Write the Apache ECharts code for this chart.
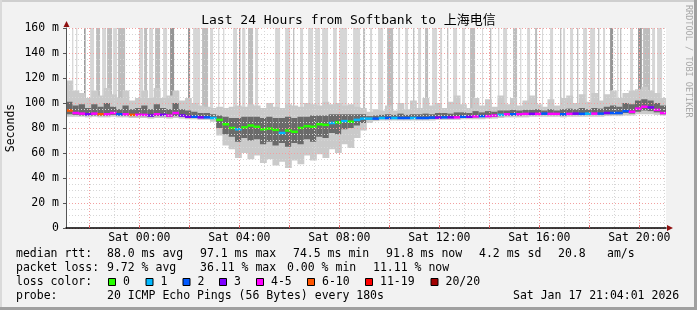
<!DOCTYPE html>
<html><head><meta charset="utf-8">
<script src="https://cdn.jsdelivr.net/npm/echarts@6/dist/echarts.min.js"></script>
<style>html,body{margin:0;padding:0;background:#f2f2f2;overflow:hidden}#c{width:697px;height:310px}</style>
</head><body><div id="c"></div>
<script>
// ---------------- data ----------------
const titleText = 'Last 24 Hours from Softbank to 上海电信';
const yAxisTitle = 'Seconds';
const sideText = 'RRDTOOL / TOBI OETIKER';
const xLabelHours = [0, 4, 8, 12, 16, 20];
const xMinorHours = [-2,-1,0,1,2,3,4,5,6,7,8,9,10,11,12,13,14,15,16,17,18,19,20,21];
const xMajorHours = [-2,0,2,4,6,8,10,12,14,16,18,20];
const xRange = [-2.9333, 21.0667];     // Fri 21:04 .. Sat 21:04 (hours from Sat 00:00)
const yRange = [0, 160];               // ms
const startHour = -2.8, stepHours = 0.25; // sample times (15 min bins)

const median = [94,92,91.5,91,91.5,91,91,92,91,91,90.5,
  90.5,90.5,90,91,90.5,90,92,90,89,89,88.5,88.5,88,
  86.5,83,80,79,80.5,82,81,79,79.5,78.5,76,78,77,80,81.5,81,83,82.5,84,84.5,85.5,85,86.5,87.5,
  87.5,87.5,88,88,88,88,88,88,88,88,88.3,88.3,88.5,88.5,88.5,89,89,89.3,89.5,89.5,90,90.5,91,91,
  91,91.3,91.3,91.3,91.5,91.3,91.3,91,91.3,91.5,91.3,91.5,91.5,91.5,92,92,92,93.5,93,95.5,97,96.5,94.5,92];
const lossIdx = [5,4,4,3,4,5,4,4,2,4,5,4,
  4,3,4,3,4,4,3,3,2,3,2,1,
  0,0,0,1,0,0,0,0,0,0,1,0,
  0,0,0,0,0,0,1,0,1,0,1,1,
  1,2,1,2,1,2,2,1,2,2,2,3,
  2,3,4,2,3,4,2,4,4,1,4,2,
  4,4,3,4,2,4,4,2,4,3,2,1,
  4,2,3,2,2,2,4,4,4,3,4,4];
const smokeLow = [89,89,89,88.5,89,88.5,88.5,89,88.5,88.5,88,88,
  88,87.5,88,88,87.5,88,87.5,87,87,86.5,86.5,85,
  74,66,63,56,60,55,58,52,55,50,53,48,
  54,51,58,54,59,56,63,60,67,64,72,78,
  84,85.5,86,86,86,86,86,86,86,86,86,86.5,
  86.5,86.5,86.5,87,87,87,87,87.5,87.5,88,88.5,88.5,
  88.5,88.5,89,89,89,89,89,88.5,89,89,89,89,
  89,89,89.5,89.5,89.5,90,90,91,91,91,90.5,90];
const smokeDarkLow = [91,90.5,90,90,90,90,90,90.5,90,90,89.5,89.5,
  89.5,89,89.5,89.5,89,89.5,89,88.5,88.5,88,88,87.5,
  80,75,73,69,72,70,71,67,69,66,68,65,
  68,67,71,69,73,72,76,75,79,80,82,84,
  86.5,87,87.5,87.5,87.5,87.5,87.5,87.5,87.5,87.5,87.5,88,
  88,88,88,88.5,88.5,88.5,89,89,89,89.5,90,90,
  90,90.5,90.5,90.5,90.5,90.5,90.5,90,90.5,90.5,90.5,90.5,
  91,91,91,91,91,92,91.5,93,94,93.5,92.5,91];
const smokeDarkHigh = [101,98,99,96,99,97,100,97,95,98,95,96,
  98,95,99,96,95,100,95,94,93,92,92,91,
  90,89,88,88,89,89,89,88,89,88,88,89,
  88,89,89,90,90,90,91,91,91,91,91,91,
  89.5,90,90.5,91,90.5,91.5,90.5,91,91,91.5,91,92,
  92,91.5,92.5,92.5,92,93.5,92.5,93.5,93,94,94,94.5,
  94,94.5,94.5,95,94,95,94,95,95.5,95,96,95,
  96,95.5,97,98,97,100,99,102,103,102,100,98];
const smokeHigh = [118,110,108,104,110,106,112,107,104,110,102,104,
  110,104,112,104,106,110,102,104,100,98,97,96,
  97,96,97,98,97,99,98,96,100,97,96,99,
  98,97,100,99,98,101,99,100,98,99,97,96,
  93,95,94,98,94,100,95,102,96,104,98,100,
  96,101,106,99,96,104,98,103,97,106,99,104,
  98,102,106,99,97,103,98,104,106,100,107,101,
  108,102,107,110,104,108,110,111,113,110,108,104];
// spikes of the slowest pings that run off the top: [from hour, to hour, density 1..3]
const spikes = [[-2.69,-2.64,1],[-2.53,-2.48,1],[-2.21,-2.15,3],[-1.97,-1.81,1],[-1.73,-1.57,2],
  [-1.49,-1.33,1],[-1.29,-1.09,2],[-1.05,-0.89,1],[-0.85,-0.57,2],[-0.01,0.15,1],[0.19,0.31,2],
  [0.39,0.55,1],[0.63,0.83,2],[0.95,1.11,1],[1.23,1.39,3],[1.95,2.03,3],[2.15,2.43,1],[2.51,2.75,2],
  [2.83,2.95,1],[3.15,3.2,1],[3.35,3.4,1],[3.75,3.91,1],[3.99,4.04,3],[4.11,4.24,1],[4.35,4.55,2],
  [4.63,4.75,1],[5.43,5.63,1],[5.83,6.03,1],[6.15,6.2,2],[6.43,6.55,1],[6.75,6.95,1],[7.03,7.23,1],
  [7.31,7.55,1],[7.75,7.9,1],[8.0,8.31,1],[8.55,8.83,1],[8.95,9.03,2],[9.23,9.31,1],[9.55,9.75,1],
  [9.91,10.15,2],[10.35,10.43,1],[10.63,10.75,1],[10.95,11.0,2],[11.15,11.27,1],[11.43,11.55,2],
  [11.71,11.91,1],[12.03,12.11,1],[12.31,12.36,2],[12.55,12.71,1],[12.91,13.03,1],[13.23,13.43,2],
  [13.71,13.75,1],[14.03,14.08,2],[14.35,14.4,1],[14.55,14.71,1],[14.95,15.11,2],[15.23,15.28,1],
  [15.51,15.63,1],[15.83,15.91,2],[16.11,16.15,1],[16.43,16.55,1],[16.83,16.88,2],[16.95,17.03,1],
  [17.23,17.35,1],[17.51,17.56,2],[17.75,17.91,1],[18.03,18.23,1],[18.35,18.4,2],[18.55,18.63,1],
  [18.83,18.95,3],[19.11,19.16,1],[19.23,19.28,2],[19.63,19.75,1],[19.95,20.1,3],[20.15,20.43,2],
  [20.51,20.63,1],[20.71,20.91,1]];
const lossLabels = ['0','1','2','3','4-5','6-10','11-19','20/20'];
const rttStats = ['median rtt:','88.0 ms avg','97.1 ms max','74.5 ms min','91.8 ms now','4.2 ms sd','20.8','am/s'];
const lossStats = ['packet loss:','9.72 % avg','36.11 % max','0.00 % min','11.11 % now'];
const probeLine = ['probe:','20 ICMP Echo Pings (56 Bytes) every 180s','Sat Jan 17 21:04:01 2026'];
const lossTitle = 'loss color:';

// ---------------- styles ----------------
const lossColors = ['#26ff00','#00b8ff','#0059ff','#7e00ff','#ff00ff','#ff5500','#ff0000','#a10000'];
const spikeColors = [null,'#d6d6d6','#bdbdbd','#959595'];
const SMOKE_LIGHT = '#cacaca', SMOKE_DARK = '#6a6a6a';
const MONO = '"DejaVu Sans Mono", "Noto Sans CJK SC", monospace';
const FS = 11.5;

const chart = echarts.init(document.getElementById('c'), null, {renderer: 'canvas', width: 697, height: 310});
const times = median.map((_, i) => startHour + i * stepHours);
const half = stepHours / 2;

function clip(params, r) {
  const cs = params.coordSys;
  return echarts.graphic.clipRectByRect(r, {x: cs.x, y: cs.y, width: cs.width, height: cs.height});
}
function rectBetween(params, api, t0, t1, v0, v1, pad) {
  const a = api.coord([t0, v1]);
  const b = api.coord([t1, v0]);
  return clip(params, {x: a[0], y: a[1], width: b[0] - a[0] + (pad || 0), height: b[1] - a[1]});
}

const spikeSeries = {
  type: 'custom', silent: true, animation: false, z: 1,
  data: spikes,
  renderItem(params, api) {
    const r = rectBetween(params, api, api.value(0), api.value(1), 92, 200, 0);
    if (!r) return;
    r.width = Math.max(r.width, 1);
    return {type: 'rect', shape: r, style: {fill: spikeColors[api.value(2)]}};
  }
};
const smokeSeries = {
  type: 'custom', silent: true, animation: false, z: 2,
  data: times.map((t, i) => [t, smokeLow[i], smokeDarkLow[i], smokeDarkHigh[i], smokeHigh[i]]),
  renderItem(params, api) {
    const t = api.value(0);
    const outer = rectBetween(params, api, t - half, t + half, api.value(1), api.value(4), 0.6);
    const inner = rectBetween(params, api, t - half, t + half, api.value(2), api.value(3), 0.6);
    const ch = [];
    if (outer) ch.push({type: 'rect', shape: outer, style: {fill: SMOKE_LIGHT}});
    if (inner) ch.push({type: 'rect', shape: inner, style: {fill: SMOKE_DARK}});
    return {type: 'group', children: ch};
  }
};
const medianSeries = {
  type: 'custom', silent: true, animation: false, z: 3,
  data: times.map((t, i) => [t, median[i], lossIdx[i]]),
  renderItem(params, api) {
    const t = api.value(0), v = api.value(1);
    const a = api.coord([t - half, v]), b = api.coord([t + half, v]);
    const r = clip(params, {x: a[0], y: a[1] - 1.25, width: b[0] - a[0] + 0.4, height: 2.5});
    if (!r) return;
    return {type: 'rect', shape: r, style: {fill: lossColors[api.value(2)]}};
  }
};

function txt(x, y, s, extra) {
  return {type: 'text', x: x, y: y, silent: true,
    style: Object.assign({text: s, fill: '#000', font: FS + 'px ' + MONO, verticalAlign: 'middle', align: 'left'}, extra || {})};
}
const g = [];
// frame
g.push({type: 'rect', shape: {x: 0, y: 0, width: 697, height: 2}, style: {fill: '#cfcfcf'}, silent: true});
g.push({type: 'rect', shape: {x: 0, y: 0, width: 2, height: 310}, style: {fill: '#dadada'}, silent: true});
g.push({type: 'rect', shape: {x: 694, y: 0, width: 3, height: 310}, style: {fill: '#a0a0a0'}, silent: true});
g.push({type: 'rect', shape: {x: 0, y: 307, width: 697, height: 3}, style: {fill: '#a0a0a0'}, silent: true});
// title & side texts
g.push(txt(348.5, 21, titleText, {align: 'center', font: '13px ' + MONO}));
g.push(txt(11, 128, yAxisTitle, {align: 'center'}));
g[g.length - 1].rotation = Math.PI / 2;
const side = txt(688.5, 5, sideText, {font: '8.5px ' + MONO, fill: '#a8a8a8'});
side.rotation = -Math.PI / 2;
g.push(side);
// axis arrows
g.push({type: 'polygon', silent: true, z: 10, shape: {points: [[63.5, 27], [66.5, 21], [69.5, 27]]}, style: {fill: '#8f1010'}});
g.push({type: 'polygon', silent: true, z: 10, shape: {points: [[667, 225], [673, 228], [667, 231]]}, style: {fill: '#8f1010'}});
// legend lines
const rttX = [16, 107, 200, 293, 386, 479, 558, 607];
rttStats.forEach((s, i) => g.push(txt(rttX[i], 254, s)));
const lossX = [16, 107, 200, 287, 373];
lossStats.forEach((s, i) => g.push(txt(lossX[i], 268, s)));
g.push(txt(16, 282, lossTitle));
const boxX = [108, 145.5, 182.5, 219, 256, 307, 365, 430.5];
lossLabels.forEach((s, i) => {
  g.push({type: 'rect', silent: true, shape: {x: boxX[i] + 0.5, y: 278.5, width: 7, height: 7},
    style: {fill: lossColors[i], stroke: '#000', lineWidth: 1}});
  g.push(txt(boxX[i] + 15, 282, s));
});
const probeX = [16, 107, 513];
probeLine.forEach((s, i) => g.push(txt(probeX[i], 296, s)));

const option = {
  backgroundColor: '#f2f2f2',
  animation: false,
  grid: {left: 66, top: 28, width: 600, height: 200, show: true, backgroundColor: '#ffffff', borderWidth: 0},
  xAxis: [{
    type: 'value', min: xRange[0], max: xRange[1], position: 'bottom', z: 4,
    axisLine: {show: true, onZero: false, lineStyle: {color: '#000', width: 1.5}},
    axisTick: {show: false, customValues: xMinorHours},
    axisLabel: {customValues: xLabelHours, margin: 4, color: '#000', fontFamily: MONO, fontSize: FS,
      formatter: v => 'Sat ' + String(v).padStart(2, '0') + ':00'},
    splitLine: {show: true, lineStyle: {color: ['#f2a0a0', '#d6d6d6'], width: 1, type: [1, 2]}}
  }, {
    type: 'value', min: xRange[0], max: xRange[1], position: 'bottom', z: 4,
    axisLine: {show: false, onZero: false},
    axisTick: {show: true, inside: true, length: 3, customValues: xMajorHours, lineStyle: {color: '#e06060'}},
    axisLabel: {show: false},
    splitLine: {show: false}
  }],
  yAxis: {
    type: 'value', min: yRange[0], max: yRange[1], interval: 20, z: 4,
    axisLine: {show: true, onZero: false, lineStyle: {color: '#555', width: 1}},
    axisTick: {show: true, length: 3, lineStyle: {color: '#555'}},
    axisLabel: {margin: 7, color: '#000', fontFamily: MONO, fontSize: FS,
      formatter: v => v === 0 ? '0' : v + ' m'},
    splitLine: {show: true, lineStyle: {color: '#f2a0a0', width: 1, type: [1, 2]}},
    minorTick: {show: false, splitNumber: 4},
    minorSplitLine: {show: true, lineStyle: {color: '#d6d6d6', width: 1, type: [1, 2]}}
  },
  series: [spikeSeries, smokeSeries, medianSeries],
  graphic: g
};
chart.setOption(option);
</script>
</body></html>
